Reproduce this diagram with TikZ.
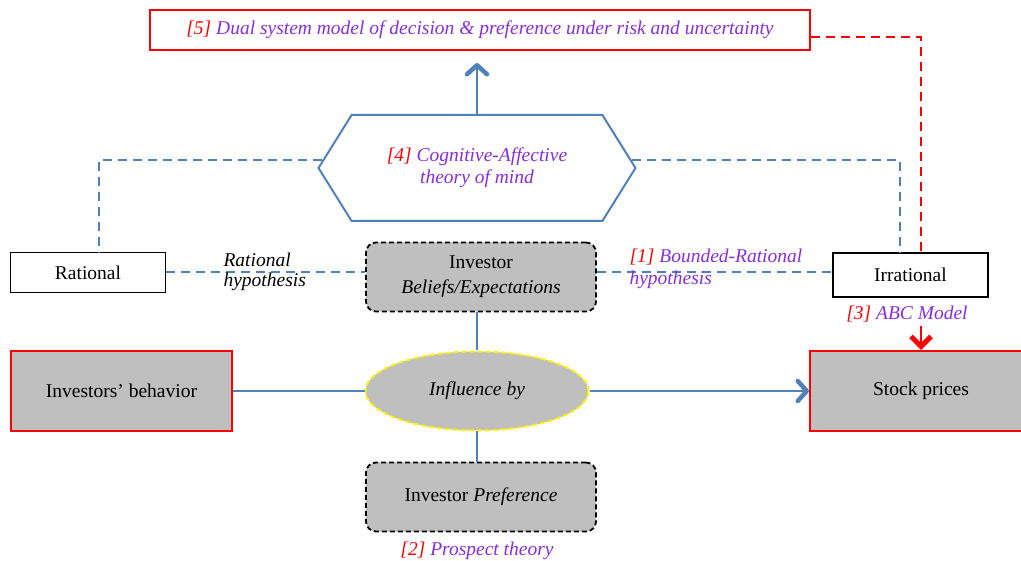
\documentclass[tikz,border=0pt]{standalone}
\usepackage{amsmath}
\usepackage{amssymb}
\usepackage{fontspec}
\setmainfont{Liberation Serif}
\usepackage{tikz}
\usetikzlibrary{arrows.meta,shapes.geometric,shapes.symbols}

\definecolor{linkblue}{RGB}{79,129,189}
\definecolor{boxgray}{RGB}{191,191,191}
\definecolor{refpurple}{RGB}{138,43,226}

\begin{document}
\begin{tikzpicture}[x=1pt, y=-1pt,
    font=\fontsize{19.5}{25}\selectfont,
    plainbox/.style={draw, line width=1.5pt, minimum width=155pt, minimum height=40pt},
    redbox/.style={draw=red, fill=boxgray, line width=2pt, minimum width=221pt, minimum height=80pt},
    roundbox/.style={draw, dash pattern=on 5pt off 3pt, rounded corners=10pt, fill=boxgray, line width=1.8pt, minimum width=230pt, minimum height=69pt, align=center},
    blueline/.style={linkblue, line width=2pt},
    bluedash/.style={linkblue, line width=2pt, dash pattern=on 9pt off 6pt},
    reddash/.style={red, line width=2pt, dash pattern=on 9pt off 6pt},
    bluearrow/.style={blueline, -{Straight Barb[length=9pt, width=20pt, line width=4.5pt, round]}},
    redarrow/.style={red, line width=2pt, -{Straight Barb[length=10pt, width=20pt, line width=5pt]}},
    note/.style={font=\fontsize{19.5}{22}\selectfont\itshape, text=refpurple, align=center}]
    \useasboundingbox (0,0) rectangle (1021,561);

    % Top box
    \node[draw=red, line width=2pt, minimum width=660pt, minimum height=40pt, note] (dual) at (480,30)
        {\raisebox{3pt}{\textcolor{red}{[5]} Dual system model of decision \& preference under risk and uncertainty}};

    % Hexagon
    \node[signal, signal to=west and east, signal pointer angle=116, draw=linkblue, line width=2pt,
        minimum width=317pt, minimum height=106pt, inner sep=0pt, note] (mind) at (477,168)
        {\textcolor{red}{[4]} Cognitive-Affective\\theory of mind};
    \draw[bluearrow] (mind.north) -- ([yshift=-12pt]dual.south -| mind.north);

    % Rational / Irrational
    \node[plainbox] (rational) at (88,272.5) {Rational};
    \node[plainbox, minimum height=44pt] (irrational) at (910.5,275) {Irrational};

    % Investor beliefs
    \node[roundbox] (beliefs) at (481,277) {Investor\\\textit{Beliefs/Expectations}};
    \draw[bluedash] (rational) -- (rational -| beliefs.west);
    \draw[bluedash] (beliefs.east |- rational) -- (irrational.west |- rational);
    \node[anchor=west, align=left, font=\fontsize{19.5}{20}\selectfont\itshape] (rathyp) at (220,272)
        {Rational\\hypothesis};
    \node[note, anchor=west, align=left] (boundhyp) at (626,269)
        {\textcolor{red}{[1]} Bounded-Rational\\hypothesis};

    % Dashed links from the hexagon
    \draw[bluedash] (mind.177) -| ([xshift=11pt]rational.north);
    \draw[bluedash] (mind.3) -| ([xshift=-11pt]irrational.north);

    % Middle row
    \node[redbox] (behavior) at (121.5,391) {Investors’ behavior};
    \node[ellipse, fill=boxgray, draw=yellow, line width=2pt, dash pattern=on 5pt off 3pt,
        minimum width=223pt, minimum height=79pt, font=\fontsize{19.5}{22}\selectfont\itshape] (influence) at (477,391) {Influence by};
    \node[redbox, minimum width=222pt] (stock) at (921,391) {Stock prices};
    \draw[blueline] (behavior) -- (influence);
    \draw[bluearrow] (influence) -- (stock);
    \draw[blueline] (influence.north) -- (influence.north |- beliefs.south);

    % ABC model
    \node[note] (abc) at (907,314) {\textcolor{red}{[3]} ABC Model};
    \draw[redarrow] (abc.south -| stock.north) -- (stock.north);
    \draw[reddash] ([yshift=-7pt]dual.east) -| (irrational.north -| stock.north);

    % Preference
    \node[roundbox] (preference) at (481,497) {Investor \textit{Preference}};
    \draw[blueline] (influence.south) -- (influence.south |- preference.north);
    \node[note] (prospect) at (477,551) {\textcolor{red}{[2]} Prospect theory};
\end{tikzpicture}
\end{document}
